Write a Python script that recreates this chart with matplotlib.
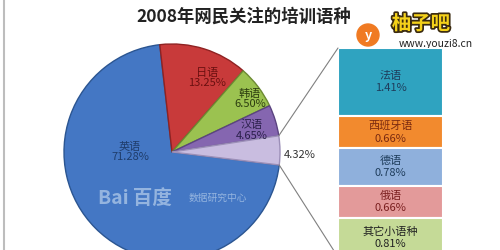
import matplotlib
matplotlib.use("Agg")
import matplotlib.pyplot as plt
from matplotlib.patches import ConnectionPatch, Circle
import matplotlib.patheffects as pe
import numpy as np

plt.rcParams['font.family'] = ['Noto Sans CJK SC', 'DejaVu Sans']

# pie data (clockwise from the "other" slice boundary)
pie_labels = ['英语', '日语', '韩语', '汉语', '其他']
pie_values = [71.28, 13.25, 6.50, 4.65, 4.32]
pie_colors = ['#4477c4', '#c83a3a', '#9bc250', '#8566b0', '#c9bde0']
pie_edges = ['#2b5591', '#8f2222', '#6c8a32', '#5b4480', '#9c8fb8']

# bar-of-pie breakdown of "其他"
bar_labels = ['法语', '西班牙语', '德语', '俄语', '其它小语种']
bar_values = [1.41, 0.66, 0.78, 0.66, 0.81]
bar_colors = ['#2fa3c0', '#f28a2e', '#8fb0dc', '#e39a9a', '#c5da97']
bar_text_colors = ['#1f3d5c', '#7a2a10', '#1f3d5c', '#7a1f1f', '#222222']

fig = plt.figure(figsize=(5, 2.5), dpi=100)
ax = fig.add_axes([0, 0, 1, 1])

# pie, center/radius in pixel units of the figure
cx, cy, r = 172, 98, 108
wedges, _ = ax.pie(pie_values, colors=pie_colors, startangle=-6.9,
                   counterclock=False, center=(cx, cy), radius=r, frame=True,
                   wedgeprops=dict(linewidth=1.0))
for w, ec in zip(wedges, pie_edges):
    w.set_edgecolor(ec)

ax.set_xlim(0, 500)
ax.set_ylim(0, 250)
ax.set_aspect('equal')
ax.axis('off')

# slice labels
lab_pos = [(130, 98, '#1f3d6b'), (207, 172, '#6b1010'), (250, 151, '#2c3d10'),
           (252, 120, '#2a1f4a')]
for (x, y, c), name, v in zip(lab_pos, pie_labels, pie_values):
    ax.text(x, y, f"{name}\n{v:.2f}%", ha='center', va='center', fontsize=8,
            color=c, linespacing=1.1)
ax.text(300, 95, f"{pie_values[-1]:.2f}%", ha='center', va='center',
        fontsize=8, color='#333333')

# stacked bar
bax = fig.add_axes([338 / 500, 0, 105 / 500, 202 / 250])
bottom = 0
for lab, v, col, tc in zip(bar_labels, bar_values, bar_colors, bar_text_colors):
    bax.bar(0, v, bottom=bottom, width=1, color=col, edgecolor='white',
            linewidth=1.5)
    bax.text(0, bottom + v / 2, f"{lab}\n{v:.2f}%", ha='center', va='center',
             fontsize=8, color=tc, linespacing=1.3, clip_on=True)
    bottom += v
bax.set_xlim(-0.5, 0.5)
bax.set_ylim(202 / 48.4, 0)
bax.axis('off')

# connector lines from the "其他" slice to the bar
other = wedges[-1]
for ang, yb in [(other.theta2, 0), (other.theta1, bottom)]:
    px = cx + r * np.cos(np.radians(ang))
    py = cy + r * np.sin(np.radians(ang))
    con = ConnectionPatch(xyA=(px, py), coordsA=ax.transData,
                          xyB=(-0.5, yb), coordsB=bax.transData,
                          color='#808080', linewidth=0.8)
    fig.add_artist(con)

# title
fig.text(244 / 500, 0.935, '2008年网民关注的培训语种', ha='center', va='center',
         fontsize=12.5, fontweight='bold', color='#222222')

# watermarks
ax.add_patch(Circle((368, 215), 11, color='#f07a22', zorder=5))
ax.text(368, 215, 'y', ha='center', va='center', color='white', fontsize=9,
        fontweight='bold', zorder=6)
ax.text(421, 226, '柚子吧', ha='center', va='center', fontsize=14,
        fontweight='bold', color='#f5d21a', zorder=6,
        path_effects=[pe.withStroke(linewidth=2.5, foreground='#3a2a10')])
ax.text(436, 206, 'www.youzi8.cn', ha='center', va='center', fontsize=7.5,
        color='#222222', zorder=6)
ax.text(135, 52, 'Bai 百度', ha='center', va='center', fontsize=14,
        color='#a9c4e6', alpha=0.8, fontweight='bold')
ax.text(218, 52, '数据研究中心', ha='center', va='center', fontsize=7,
        color='#a9c4e6', alpha=0.8)

# left border
ax.plot([3.5, 3.5], [0, 250], color='#bdbdbd', linewidth=1.5)

fig.savefig('out.png', dpi=100)
